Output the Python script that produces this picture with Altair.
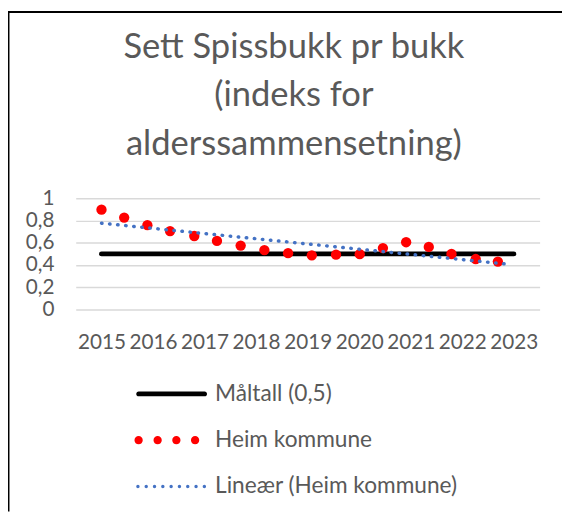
import altair as alt
import pandas as pd

# ---------------- data ----------------
heim_years = [2015.0, 2015.44, 2015.89, 2016.33, 2016.80, 2017.24, 2017.70, 2018.16, 2018.62,
              2019.08, 2019.55, 2020.01, 2020.46, 2020.91, 2021.35, 2021.79, 2022.26, 2022.69]
heim_values = [0.897, 0.826, 0.758, 0.705, 0.661, 0.617, 0.575, 0.534, 0.507,
               0.487, 0.493, 0.498, 0.552, 0.605, 0.563, 0.499, 0.454, 0.431]
maltall_years = [2015, 2023]
maltall_values = [0.5, 0.5]
trend_years = [2015.0, 2022.9]
trend_values = [0.776, 0.407]
year_labels = [2015, 2016, 2017, 2018, 2019, 2020, 2021, 2022, 2023]
y_ticks = [0, 0.2, 0.4, 0.6, 0.8, 1]
series_names = ["Måltall (0,5)", "Heim kommune", "Lineær (Heim kommune)"]
title_lines = ["Sett Spissbukk pr bukk", "(indeks for", "alderssammensetning)"]

# ---------------- styling ----------------
FONT = "Lato"
TEXT = "#595959"
PLOT_W, PLOT_H = 470.6, 113
PAD = {"left": 68.7, "top": 189.3, "right": 22.7, "bottom": 204.7}


def circ(cx, r):
    return f"M{cx - r},0 A{r},{r} 0 1 1 {cx + r},0 A{r},{r} 0 1 1 {cx - r},0 Z"


x0, x1, h = -5.8, 0.9, 0.24
line_path = (f"M{x0},{-h} L{x1},{-h} A{h},{h} 0 0 1 {x1},{h} "
             f"L{x0},{h} A{h},{h} 0 0 1 {x0},{-h} Z")
dots_path = " ".join(circ(c, 0.42) for c in [-5.8, -3.87, -1.97, -0.07])
dotted_path = " ".join(circ(-5.87 + i * 0.8425, 0.17) for i in range(9))

heim_df = pd.DataFrame({"year": heim_years, "value": heim_values})
maltall_df = pd.DataFrame({"year": maltall_years, "value": maltall_values})
trend_df = pd.DataFrame({"year": trend_years, "value": trend_values})
legend_df = pd.DataFrame({"series": series_names, "year": [2015] * 3, "value": [0.5] * 3})

x_scale = alt.Scale(domain=[2014.5, 2023.5], nice=False, zero=False)
y_scale = alt.Scale(domain=[0, 1], nice=False)

x_enc = alt.X("year:Q", scale=x_scale,
              axis=alt.Axis(values=year_labels, format="d", title=None, grid=False,
                            domain=False, ticks=False, tickSize=0, labelPadding=22.5,
                            labelFlush=False, labelOverlap=False))
y_enc = alt.Y("value:Q", scale=y_scale,
              axis=alt.Axis(values=y_ticks, title=None, grid=True, domain=False,
                            ticks=False, tickSize=0, labelPadding=22, labelOverlap=False,
                            labelExpr="replace(format(datum.value, '~g'), '.', ',')"))

legend = alt.Legend(orient="none", legendX=110.3, legendY=187, direction="vertical",
                    title=None, symbolSize=400, symbolStrokeWidth=0, symbolOpacity=1,
                    labelFont=FONT, labelFontSize=23, labelColor=TEXT, labelOffset=8,
                    rowPadding=23, padding=0, labelLimit=400)

maltall = alt.Chart(maltall_df).mark_line(color="#000000", strokeWidth=5, strokeCap="round").encode(
    x=x_enc, y=y_enc)

heim = alt.Chart(heim_df).mark_circle(color="#FF0000", size=110, opacity=1).encode(
    x=x_enc, y=y_enc)

trend = alt.Chart(trend_df).mark_line(color="#4472C4", strokeWidth=3.5, strokeCap="round",
                                      strokeDash=[0.5, 7.7]).encode(x=x_enc, y=y_enc)

legend_layer = alt.Chart(legend_df).transform_filter("false").mark_point(filled=True).encode(
    x=x_enc, y=y_enc,
    color=alt.Color("series:N", scale=alt.Scale(domain=series_names,
                                                range=["#000000", "#FF0000", "#4472C4"]),
                    legend=legend),
    shape=alt.Shape("series:N", scale=alt.Scale(domain=series_names,
                                                range=[line_path, dots_path, dotted_path]),
                    legend=legend),
)

single = pd.DataFrame({"k": [0]})
top_border = alt.Chart(single).mark_rule(color="#000000", strokeWidth=2).encode(
    x=alt.value(-PAD["left"]), x2=alt.value(PLOT_W + PAD["right"]), y=alt.value(-PAD["top"] + 0.5))
left_border = alt.Chart(single).mark_rule(color="#000000", strokeWidth=2).encode(
    x=alt.value(-PAD["left"] + 0.5), y=alt.value(-PAD["top"]), y2=alt.value(PLOT_H + PAD["bottom"]))

title = alt.Chart(single).mark_text(
    text=title_lines, font=FONT, fontSize=35, fontWeight="normal", color=TEXT,
    lineHeight=49, align="center", baseline="middle"
).encode(x=alt.value(221.3), y=alt.value(-153.3))

chart = alt.layer(top_border, left_border, title, maltall, heim, trend, legend_layer).properties(
    width=PLOT_W, height=PLOT_H,
    autosize=alt.AutoSizeParams(type="none"),
    padding=PAD,
).configure_axis(
    labelFont=FONT, labelFontSize=21, labelColor=TEXT, gridColor="#D9D9D9", gridWidth=1.5,
    labelOverlap=False
).configure_view(stroke="transparent")

chart.save("out.html", embed_options={"renderer": "svg", "actions": False})
